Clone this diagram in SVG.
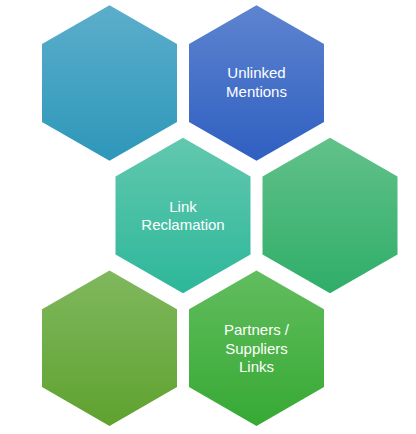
<svg xmlns="http://www.w3.org/2000/svg" width="416" height="434" viewBox="0 0 416 434">
<defs>
<linearGradient id="g1" x1="0" y1="0" x2="0" y2="1"><stop offset="0" stop-color="#5caecb"/><stop offset="1" stop-color="#2d97ba"/></linearGradient>
<linearGradient id="g2" x1="0" y1="0" x2="0" y2="1"><stop offset="0" stop-color="#5e84d0"/><stop offset="1" stop-color="#2f5fc1"/></linearGradient>
<linearGradient id="g3" x1="0" y1="0" x2="0" y2="1"><stop offset="0" stop-color="#62c8ae"/><stop offset="1" stop-color="#2db79a"/></linearGradient>
<linearGradient id="g4" x1="0" y1="0" x2="0" y2="1"><stop offset="0" stop-color="#62c18a"/><stop offset="1" stop-color="#2fae68"/></linearGradient>
<linearGradient id="g5" x1="0" y1="0" x2="0" y2="1"><stop offset="0" stop-color="#80b85e"/><stop offset="1" stop-color="#5fa22f"/></linearGradient>
<linearGradient id="g6" x1="0" y1="0" x2="0" y2="1"><stop offset="0" stop-color="#62bd5e"/><stop offset="1" stop-color="#36a934"/></linearGradient>
<polygon id="hex" points="0,-77.8 67.5,-38.9 67.5,38.9 0,77.8 -67.5,38.9 -67.5,-38.9"/>
</defs>
<style>
text{font-family:"Liberation Sans",Arial,sans-serif;font-size:15px;fill:#ffffff;text-anchor:middle}
</style>
<rect width="416" height="434" fill="#ffffff"/>
<g id="connectors"/>
<g id="hex1"><use href="#hex" x="109.5" y="83" fill="url(#g1)"/></g>
<g id="hex2"><use href="#hex" x="256.5" y="83" fill="url(#g2)"/>
<text x="256.5" y="78">Unlinked</text><text x="256.5" y="96.5">Mentions</text></g>
<g id="hex3"><use href="#hex" x="183" y="215.5" fill="url(#g3)"/>
<text x="183" y="211.5">Link</text><text x="183" y="230">Reclamation</text></g>
<g id="hex4"><use href="#hex" x="330" y="215.5" fill="url(#g4)"/></g>
<g id="hex5"><use href="#hex" x="109.5" y="348.2" fill="url(#g5)"/></g>
<g id="hex6"><use href="#hex" x="256.5" y="348.2" fill="url(#g6)"/>
<text x="256.5" y="335.3">Partners /</text><text x="256.5" y="353.5">Suppliers</text><text x="256.5" y="371.5">Links</text></g>
</svg>
